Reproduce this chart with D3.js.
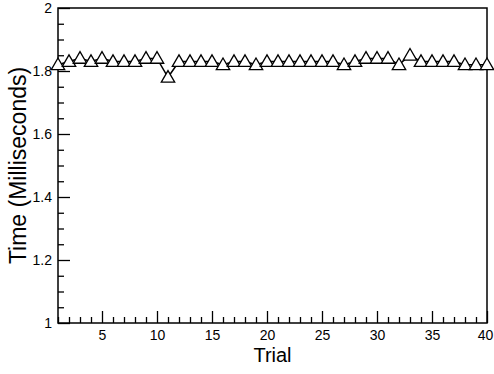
<!DOCTYPE html>
<html>
<head>
<meta charset="utf-8">
<script src="https://cdn.jsdelivr.net/npm/d3@7"></script>
<style>
  body { margin: 0; background: #fff; }
  svg { display: block; font-family: "Liberation Sans", Arial, sans-serif; }
</style>
</head>
<body>
<div id="chart"></div>
<script>
// -------- DATA --------
const trials = d3.range(1, 41);
const times = [
  1.82, 1.83, 1.84, 1.83, 1.84, 1.83, 1.83, 1.83, 1.84, 1.84,
  1.78, 1.83, 1.83, 1.83, 1.83, 1.82, 1.83, 1.83, 1.82, 1.83,
  1.83, 1.83, 1.83, 1.83, 1.83, 1.83, 1.82, 1.83, 1.84, 1.84,
  1.84, 1.82, 1.85, 1.83, 1.83, 1.83, 1.83, 1.82, 1.82, 1.82
];
const xTicks = [5, 10, 15, 20, 25, 30, 35, 40];
const yTicks = [1, 1.2, 1.4, 1.6, 1.8, 2];

// -------- LAYOUT --------
const width = 494, height = 374;
const margins = {top: 8, right: 7, bottom: 51, left: 58};

const svg = d3.select("#chart").append("svg")
  .attr("width", width)
  .attr("height", height);

const x = d3.scaleLinear()
  .domain([1, 40])
  .range([margins.left, width - margins.right]);

const y = d3.scaleLinear()
  .domain([1, 2])
  .range([height - margins.bottom, margins.top]);

// minor ticks (nach innen)
const xMinor = d3.axisBottom(x)
  .tickValues(d3.range(1, 41).filter(d => d % 5 !== 0))
  .tickSizeInner(-6).tickSizeOuter(0).tickFormat("");
const yMinor = d3.axisLeft(y)
  .tickValues(d3.range(1, 2.001, 0.05).filter((d, i) => i % 4 !== 0))
  .tickSizeInner(-6).tickSizeOuter(0).tickFormat("");

svg.append("g")
  .attr("transform", `translate(0,${height - margins.bottom})`)
  .call(xMinor);
svg.append("g")
  .attr("transform", `translate(${margins.left},0)`)
  .call(yMinor);

// major ticks
const xAxisG = svg.append("g")
  .attr("transform", `translate(0,${height - margins.bottom})`)
  .call(d3.axisBottom(x).tickValues(xTicks).tickSizeInner(-12).tickSizeOuter(0).tickPadding(7));
const yAxisG = svg.append("g")
  .attr("transform", `translate(${margins.left},0)`)
  .call(d3.axisLeft(y).tickValues(yTicks).tickSizeInner(-12).tickSizeOuter(0)
    .tickPadding(6).tickFormat(d3.format("")));

svg.selectAll(".tick line").attr("stroke", "#000").attr("stroke-width", 1.3);
svg.selectAll(".domain").remove();
svg.selectAll(".tick text")
  .attr("fill", "#000")
  .style("font-size", "14px")
  .style("font-family", "Liberation Sans, Arial, sans-serif");
xAxisG.selectAll(".tick text").attr("dy", "0.71em");
// "40" am rechten Rand etwas nach links, damit es nicht abgeschnitten wird
xAxisG.selectAll(".tick text").filter(d => d === 40).attr("dx", "-2");

// frame
svg.append("rect")
  .attr("x", x(1))
  .attr("y", y(2))
  .attr("width", x(40) - x(1))
  .attr("height", y(1) - y(2))
  .attr("fill", "none")
  .attr("stroke", "#000")
  .attr("stroke-width", 1.5);

// axis titles
svg.append("text")
  .attr("x", (x(1) + x(40)) / 2)
  .attr("y", 362)
  .attr("text-anchor", "middle")
  .style("font-size", "20px")
  .text("Trial");

svg.append("text")
  .attr("transform", `translate(26,${(y(1) + y(2)) / 2}) rotate(-90)`)
  .attr("text-anchor", "middle")
  .style("font-size", "23px")
  .text("Time (Milliseconds)");

// line + markers
const line = d3.line()
  .x((d, i) => x(trials[i]))
  .y(d => y(d));

svg.append("path")
  .datum(times)
  .attr("d", line)
  .attr("fill", "none")
  .attr("stroke", "#000")
  .attr("stroke-width", 1.5);

const tri = d3.symbol().type(d3.symbolTriangle).size(78);

svg.append("g").selectAll("path")
  .data(times)
  .join("path")
    .attr("d", tri)
    .attr("transform", (d, i) => `translate(${x(trials[i])},${y(d) + 1})`)
    .attr("fill", "#fff")
    .attr("stroke", "#000")
    .attr("stroke-width", 1.3);
</script>
</body>
</html>
